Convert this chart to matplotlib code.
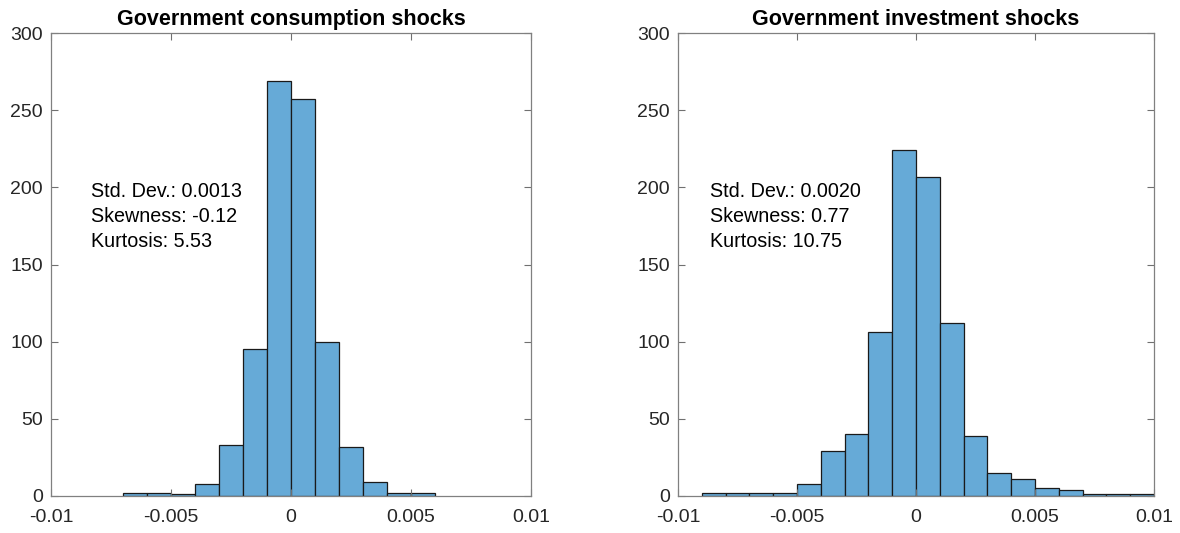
import numpy as np
import matplotlib
matplotlib.use("Agg")
import matplotlib.pyplot as plt

plt.rcParams['font.family'] = ['Liberation Sans', 'DejaVu Sans']

# ---- data ----
titles = ["Government consumption shocks", "Government investment shocks"]

cons_edges = [-0.007, -0.006, -0.005, -0.004, -0.003, -0.002, -0.001, 0.0,
              0.001, 0.002, 0.003, 0.004, 0.005, 0.006]
cons_counts = [2, 2, 1, 8, 33, 95, 269, 257, 100, 32, 9, 2, 2]

inv_edges = [-0.009, -0.008, -0.007, -0.006, -0.005, -0.004, -0.003, -0.002,
             -0.001, 0.0, 0.001, 0.002, 0.003, 0.004, 0.005, 0.006, 0.007,
             0.008, 0.009, 0.010]
inv_counts = [2, 2, 2, 2, 8, 29, 40, 106, 224, 207, 112, 39, 15, 11, 5, 4, 1, 1, 1]

cons_stats = ["Std. Dev.: 0.0013", "Skewness: -0.12", "Kurtosis: 5.53"]
inv_stats = ["Std. Dev.: 0.0020", "Skewness: 0.77", "Kurtosis: 10.75"]

xticks = [-0.01, -0.005, 0, 0.005, 0.01]
xticklabels = ["-0.01", "-0.005", "0", "0.005", "0.01"]
yticks = [0, 50, 100, 150, 200, 250, 300]

# ---- figure ----
fig = plt.figure(figsize=(11.8, 5.33), dpi=100)
ax1 = fig.add_axes([51/1180, 1-496/533, 480/1180, 463/533])
ax2 = fig.add_axes([678/1180, 1-496/533, 476/1180, 463/533])

face = (0.4, 0.6682, 0.8446)
panels = [(ax1, cons_edges, cons_counts, cons_stats, -0.00833),
          (ax2, inv_edges, inv_counts, inv_stats, -0.00866)]

for i, (ax, edges, counts, stats, tx) in enumerate(panels):
    edges = np.array(edges)
    ax.bar(edges[:-1], counts, width=np.diff(edges), align='edge',
           color=face, edgecolor='#1a1a1a', linewidth=0.9)
    ax.set_xlim(-0.01, 0.01)
    ax.set_ylim(0, 300)
    ax.set_xticks(xticks)
    ax.set_xticklabels(xticklabels)
    ax.set_yticks(yticks)
    ax.tick_params(direction='in', top=True, right=True, length=5,
                   width=0.8, color='#707070', labelcolor='#262626',
                   labelsize=14)
    ax.tick_params(axis='x', pad=9)
    ax.tick_params(axis='y', pad=6)
    for s in ax.spines.values():
        s.set_color('#808080')
        s.set_linewidth(0.9)
    ax.set_title(titles[i], fontsize=15.5, fontweight='bold', pad=6)
    for j, line in enumerate(stats):
        ax.text(tx, 197 - 15.9 * j, line, fontsize=14.2, color='black',
                va='center', ha='left')

fig.savefig("out.png", dpi=100)
